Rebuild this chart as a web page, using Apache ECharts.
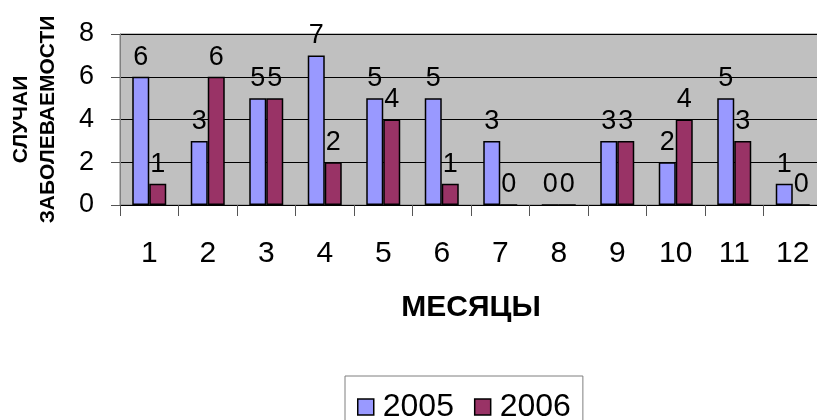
<!DOCTYPE html>
<html>
<head>
<meta charset="utf-8">
<script src="https://cdn.jsdelivr.net/npm/echarts@6/dist/echarts.min.js"></script>
<style>
  html, body { margin: 0; padding: 0; background: #fff; }
  #chart { width: 817px; height: 420px; }
</style>
</head>
<body>
<div id="chart"></div>
<script>
const months = ["1", "2", "3", "4", "5", "6", "7", "8", "9", "10", "11", "12"];
const cases2005 = [6, 3, 5, 7, 5, 5, 3, 0, 3, 2, 5, 1];
const cases2006 = [1, 6, 5, 2, 4, 1, 0, 0, 3, 4, 3, 0];
const yTicks = [0, 2, 4, 6, 8];

const FONT = "'Liberation Sans', Arial, sans-serif";

const chart = echarts.init(document.getElementById("chart"));

const barLabel = {
  show: true,
  position: "top",
  distance: 6,
  color: "#000",
  fontSize: 27,
  fontFamily: FONT,
};

chart.setOption({
  animation: false,
  textStyle: { fontFamily: FONT },
  legend: {
    data: ["2005", "2006"],
    left: 345,
    top: 376,
    padding: [15, 12, 14, 12],
    itemGap: 20,
    itemWidth: 16,
    itemHeight: 16,
    icon: "rect",
    borderColor: "#7f7f7f",
    borderWidth: 1,
    itemStyle: { borderColor: "#000", borderWidth: 1.5 },
    textStyle: { fontSize: 32, color: "#000", fontFamily: FONT, padding: [0, 0, 0, 4] },
  },
  grid: {
    left: 120,
    top: 34,
    width: 702,
    height: 171,
    outerBoundsMode: "none",
    containLabel: false,
    show: true,
    backgroundColor: "#c0c0c0",
    borderColor: "#808080",
    borderWidth: 1,
  },
  xAxis: {
    type: "category",
    data: months,
    name: "МЕСЯЦЫ",
    nameLocation: "middle",
    nameGap: 88,
    nameTextStyle: { fontSize: 30, fontWeight: "bold", color: "#000", fontFamily: FONT },
    axisLine: { lineStyle: { color: "#000", width: 1 } },
    axisTick: { show: true, length: 11, lineStyle: { color: "#555" } },
    axisLabel: { fontSize: 30, color: "#000", margin: 34, fontFamily: FONT },
  },
  yAxis: {
    type: "value",
    min: yTicks[0],
    max: yTicks[yTicks.length - 1],
    interval: 2,
    name: "СЛУЧАИ\nЗАБОЛЕВАЕМОСТИ",
    nameLocation: "middle",
    nameGap: 58,
    nameTextStyle: { fontSize: 21, fontWeight: "bold", color: "#000", lineHeight: 27, fontFamily: FONT },
    axisLine: { show: true, lineStyle: { color: "#808080" } },
    axisTick: { show: true, length: 9, lineStyle: { color: "#555" } },
    axisLabel: { fontSize: 27, color: "#000", margin: 26, fontFamily: FONT },
    splitLine: { lineStyle: { color: "#000", width: 1 } },
  },
  series: [
    {
      name: "2005",
      type: "bar",
      data: cases2005,
      barWidth: 17,
      barGap: "0%",
      itemStyle: { color: "#9999ff", borderColor: "#000", borderWidth: 1.5 },
      label: barLabel,
    },
    {
      name: "2006",
      type: "bar",
      data: cases2006,
      barWidth: 17,
      itemStyle: { color: "#993366", borderColor: "#000", borderWidth: 1.5 },
      label: barLabel,
    },
  ],
});
</script>
</body>
</html>
